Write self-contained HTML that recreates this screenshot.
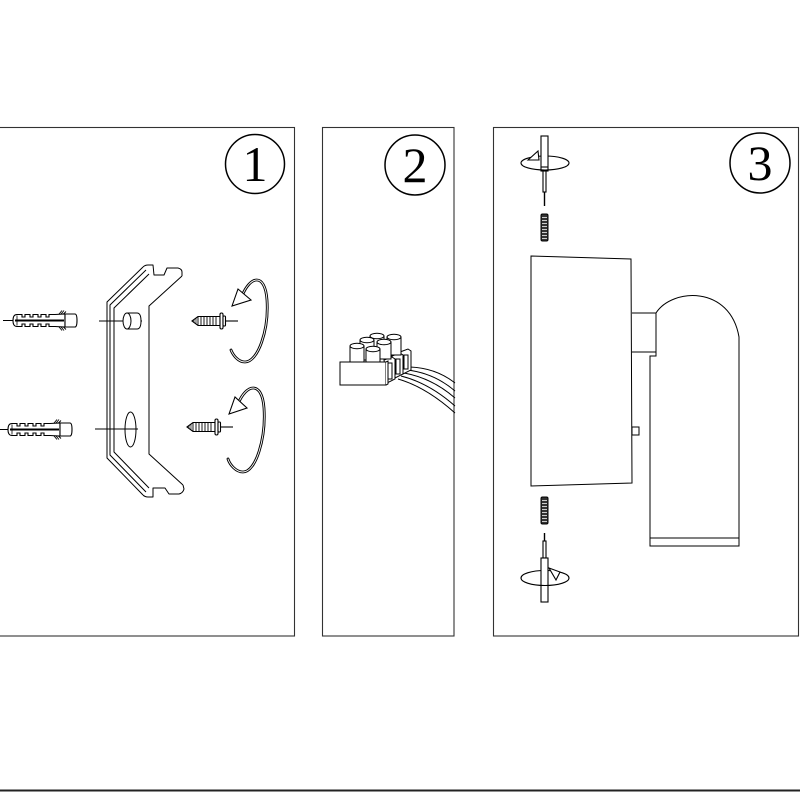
<!DOCTYPE html>
<html><head><meta charset="utf-8"><style>
html,body{margin:0;padding:0;background:#fff;width:800px;height:800px;overflow:hidden}
svg{display:block}
text{font-family:"Liberation Serif",serif}
</style></head><body>
<svg width="800" height="800" viewBox="0 0 800 800" xmlns="http://www.w3.org/2000/svg">
<rect x="0" y="0" width="800" height="800" fill="#fff"/>
<!-- panels -->
<g fill="none" stroke="#333" stroke-width="1.1">
<rect x="-2" y="127.5" width="296.5" height="508.5"/>
<rect x="322.5" y="127.5" width="131.5" height="508.5"/>
<rect x="493.5" y="127.5" width="305" height="508.5"/>
</g>
<line x1="0" y1="790.5" x2="800" y2="790.5" stroke="#222" stroke-width="2"/>

<!-- numbers -->
<g fill="none" stroke="#000" stroke-width="1.5">
<circle cx="255" cy="164" r="29.5"/>
<circle cx="415" cy="165" r="30"/>
<circle cx="760" cy="163" r="30"/>
</g>
<g font-size="50" text-anchor="middle" fill="#000">
<text x="255" y="181">1</text>
<text x="415" y="182">2</text>
<text x="760" y="180">3</text>
</g>

<!-- PANEL 1 -->
<defs>
<g id="anchor" stroke="#000" stroke-width="1.1" fill="#fff">
  <path d="M44,-4 L49,-10 M46,-4 L51,-10 M48,-4 L53,-9 M44,4 L49,10 M46,4 L51,10 M48,4 L53,9" fill="none" stroke-width="0.9"/>
  <path d="M4,-6 L9,-6 L9,-3.5 L12,-3.5 L12,-6 L17,-6 L17,-3.5 L20,-3.5 L20,-6 L25,-6 L25,-3.5 L28,-3.5 L28,-6 L33,-6 L33,-3.5 L36,-3.5 L36,-6 L42,-6 L52,-6.5 L52,6.5 L42,6 L36,6 L36,3.5 L33,3.5 L33,6 L28,6 L28,3.5 L25,3.5 L25,6 L20,6 L20,3.5 L17,3.5 L17,6 L12,6 L12,3.5 L9,3.5 L9,6 L4,6 Q0,6 0,0 Q0,-6 4,-6 Z"/>
  <path d="M52,-6.5 L62,-6.5 Q64,-6.5 64,0 Q64,6.5 62,6.5 L52,6.5 Z"/>
  <line x1="2" y1="0" x2="51" y2="0" stroke-width="2"/>
  <line x1="4" y1="-5" x2="4" y2="5" stroke-width="0.8"/>
</g>
<g id="screw" stroke="#000" stroke-width="1.1" fill="#fff">
  <path d="M0,0 L6,-4.5 L28,-4.5 L28,4.5 L6,4.5 Z"/>
  <path d="M6,-4.5 L6,4.5 M9,-4.5 L9,4.5 M12,-4.5 L12,4.5 M15,-4.5 L15,4.5 M18,-4.5 L18,4.5 M21,-4.5 L21,4.5 M24,-4.5 L24,4.5" fill="none" stroke-width="0.9"/>
  <path d="M2,-2 L2,2 M4,-3 L4,3" fill="none" stroke-width="0.7"/>
  <rect x="28" y="-8" width="3" height="16" rx="1.5"/>
  <rect x="31" y="-5" width="2.5" height="10" rx="1"/>
  <line x1="33.5" y1="0" x2="46" y2="0"/>
</g>
</defs>

<line x1="3" y1="320.5" x2="14" y2="320.5" stroke="#000" stroke-width="1"/>
<use href="#anchor" x="13" y="320.5"/>
<line x1="0" y1="429.5" x2="9" y2="429.5" stroke="#000" stroke-width="1"/>
<use href="#anchor" x="8" y="429.5"/>

<use href="#screw" x="192" y="321"/>
<use href="#screw" x="187" y="427"/>

<!-- bracket -->
<g fill="none" stroke="#000" stroke-width="1" stroke-linejoin="round">
  <path d="M143,267 L107,302 L107,458 L143,495"/>
  <path d="M146,270 L110,305 L110,455 L146,492"/>
  <path d="M149,274 L114,308 L114,452 L149,488"/>
  <path d="M143,267 Q145,265 148,265 L153,265 L154,275 L164,275 L167,268 L178,268 Q182,269 182,272 L182,276"/>
  <path d="M182,276 L149,306 L149,454 L183,485"/>
  <path d="M143,495 Q145,497 148,497 L153,497 L153,488 L165,488 L169,494 L179,494 Q183,493 184,489 L183,485"/>
  <line x1="99" y1="321" x2="142" y2="321"/>
  <path d="M127,313 L137,313 Q141,313 141,321 Q141,329 137,329 L127,329" fill="#fff"/>
  <ellipse cx="127" cy="321" rx="4" ry="8" fill="#fff"/>
  <line x1="95" y1="429" x2="138" y2="429"/>
  <ellipse cx="130.5" cy="429.5" rx="5.5" ry="17.5"/>
</g>

<!-- rotation arrows -->
<g fill="none" stroke-linecap="round">
  <path d="M242,296 C250,276 265,272 267,300 C269,330 258,362 245,362 C238,362 233,355 231,350" stroke="#000" stroke-width="2.8"/>
  <path d="M242,296 C250,276 265,272 267,300 C269,330 258,362 245,362 C238,362 233,355 231,350" stroke="#fff" stroke-width="0.9"/>
  <path d="M238,404 C246,384 262,380 264,408 C266,438 256,472 243,472 C236,472 230,465 228,459" stroke="#000" stroke-width="2.8"/>
  <path d="M238,404 C246,384 262,380 264,408 C266,438 256,472 243,472 C236,472 230,465 228,459" stroke="#fff" stroke-width="0.9"/>
</g>
<g fill="#fff" stroke="#000" stroke-width="1.1">
  <path d="M232,306 L238,289 L251,300 Z"/>
  <path d="M229,414 L235,397 L247,408 Z"/>
</g>

<!-- PANEL 2 connector -->
<g fill="none" stroke="#000" stroke-width="1">
  <path d="M410,367 Q436,368 455,383"/>
  <path d="M407,370 Q434,373 455,391"/>
  <path d="M404,373 Q432,378 455,398"/>
  <path d="M401,376 Q429,383 455,406"/>
  <path d="M398,379 Q426,387 455,413"/>
</g>
<g fill="#fff" stroke="#000" stroke-width="1">
  <path d="M400,352 L408,349 L411,351 L411,370 L403,374 Z"/>
  <rect x="404" y="355" width="4" height="14"/>
  <path d="M392,356 L400,353 L403,355 L403,374 L395,378 Z"/>
  <rect x="396" y="359" width="4" height="15"/>
  <path d="M384,360 L392,357 L395,359 L395,379 L387,383 Z"/>
  <rect x="388" y="363" width="4" height="16"/>
  <g>
    <path d="M370,336 L370,356 L384,356 L384,336"/><ellipse cx="377" cy="336" rx="7" ry="2.7"/>
    <path d="M387,337 L387,355 L401,355 L401,337"/><ellipse cx="394" cy="337" rx="7" ry="2.7"/>
    <path d="M360,340 L360,360 L374,360 L374,340"/><ellipse cx="367" cy="340" rx="7" ry="2.7"/>
    <path d="M377,342 L377,359 L391,359 L391,342"/><ellipse cx="384" cy="342" rx="7" ry="2.7"/>
    <path d="M350,346 L350,363 L364,363 L364,346"/><ellipse cx="357" cy="346" rx="7" ry="2.7"/>
    <path d="M366,349 L366,364 L380,364 L380,349"/><ellipse cx="373" cy="349" rx="7" ry="2.7"/>
  </g>
  <path d="M340,362 L386,362 L386,385 L340,385 Z"/>
  <path d="M386,362 L388,361 L388,384 L386,385" />
</g>

<!-- PANEL 3 -->
<g fill="#fff" stroke="#000" stroke-width="1">
  <path d="M632,313 L656,313 C672,288 730,285 739,337 L739,546 L650,546 L650,356 L656,356 L656,352 L632,352"/>
  <line x1="650" y1="538" x2="739" y2="538"/>
  <line x1="656" y1="313" x2="656" y2="352"/>
  <path d="M531,256 L631,259 L632,483 L531,486 Z"/>
  <rect x="632" y="427" width="7" height="8"/>
</g>

<!-- top screwdriver -->
<g stroke="#000" stroke-width="1.1" fill="none">
  <path d="M521,163 A24,7 0 0 1 569,163"/>
  <rect x="541" y="136" width="7" height="35" fill="#fff"/>
  <line x1="541" y1="167" x2="548" y2="167"/>
  <path d="M521,163 A24,7 0 0 0 569,163"/>
  <rect x="543" y="171" width="3" height="21" fill="#fff"/>
  <line x1="544.5" y1="192" x2="544.5" y2="206" stroke-width="1.4"/>
  <path d="M528,160 L538,151 L539,160 Z" fill="#fff"/>
</g>
<!-- grub screws -->
<g stroke="#000" stroke-width="1">
  <rect x="541" y="214" width="7" height="27" rx="1.5" fill="#333"/>
  <path d="M542,217.5h5M542,220.5h5M542,223.5h5M542,226.5h5M542,229.5h5M542,232.5h5M542,235.5h5M542,238.5h5" stroke="#fff" stroke-width="0.8"/>
  <rect x="541" y="497" width="7" height="27" rx="1.5" fill="#333"/>
  <path d="M542,500.5h5M542,503.5h5M542,506.5h5M542,509.5h5M542,512.5h5M542,515.5h5M542,518.5h5M542,521.5h5" stroke="#fff" stroke-width="0.8"/>
</g>
<!-- bottom screwdriver -->
<g stroke="#000" stroke-width="1.1" fill="none">
  <path d="M521,578 A24,7.5 0 0 1 569,578"/>
  <line x1="544.5" y1="533" x2="544.5" y2="541" stroke-width="1.4"/>
  <rect x="543" y="541" width="3" height="17" fill="#fff"/>
  <rect x="541" y="558" width="7" height="44" fill="#fff"/>
  <path d="M521,578 A24,7.5 0 0 0 569,578"/>
  <path d="M549,568 L560,572 L556,580 Z" fill="#fff"/>
</g>
</svg>
</body></html>
